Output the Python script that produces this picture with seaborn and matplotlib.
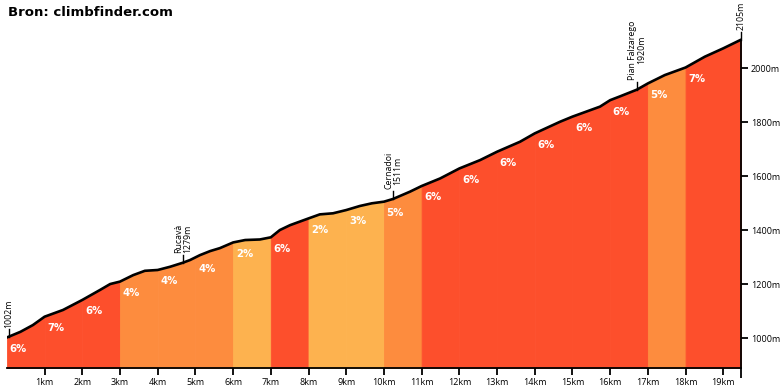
import numpy as np
import pandas as pd
import seaborn as sns
import matplotlib.pyplot as plt

# profile (km, m)
dist = [0, 0.36, 0.69, 1.0, 1.49, 2.0, 2.47, 2.74, 3.0, 3.35, 3.66, 4.0, 4.33, 4.67, 4.86,
        5.12, 5.39, 5.65, 6.0, 6.32, 6.71, 7.0, 7.24, 7.51, 8.0, 8.3, 8.65, 9.0, 9.36, 9.68,
        10.0, 10.24, 10.69, 11.0, 11.49, 12.0, 12.55, 13.0, 13.61, 14.0, 14.67, 15.0, 15.73,
        16.0, 16.26, 16.71, 17.0, 17.45, 18.0, 18.51, 19.0, 19.47]
elev = [1002, 1023, 1048, 1079, 1104, 1141, 1178, 1200, 1209, 1233, 1249, 1252, 1264, 1279, 1289,
        1307, 1322, 1333, 1354, 1363, 1365, 1373, 1400, 1418, 1443, 1458, 1462, 1474, 1489, 1499,
        1505, 1515, 1542, 1563, 1591, 1628, 1659, 1690, 1727, 1758, 1801, 1820, 1857,
        1881, 1895, 1920, 1943, 1974, 2002, 2042, 2073, 2105]

# grade per kilometre (last one runs to the top)
grades = [6, 7, 6, 4, 4, 4, 2, 6, 2, 3, 5, 6, 6, 6, 6, 6, 6, 5, 7]

# named points
wp_names = ["Rucavà", "Cernadoi", "Pian Falzarego"]
wp_km = [4.67, 10.24, 16.71]
wp_elev = [1279, 1511, 1920]

yticks = [1000, 1200, 1400, 1600, 1800, 2000]
xticks = list(range(1, 20))

RED, ORANGE, LIGHT = "#fd4f2c", "#fd8c3e", "#fdb24f"


def grade_color(g):
    if g >= 6:
        return RED
    if g >= 4:
        return ORANGE
    return LIGHT


prof = pd.DataFrame({"km": dist, "m": elev})
total = dist[-1]
ybot, ytop = 889, 2252

fig = plt.figure(figsize=(7.8, 3.9), dpi=100)
ax = fig.add_axes([6.86 / 780, 22 / 390, (741 - 6.86) / 780, 368 / 390])

# coloured blocks per km
for i, g in enumerate(grades):
    a = i
    b = total if i == len(grades) - 1 else i + 1
    xs = [a] + [d for d in dist if a < d < b] + [b]
    ys = np.interp(xs, dist, elev)
    ax.fill_between(xs, ys, ybot, color=grade_color(g), lw=0.6, edgecolor=grade_color(g))
    ax.text(a + 0.3, np.interp(a, dist, elev) - 42, f"{g}%", color="white", fontsize=7.3,
            fontweight="bold", ha="center", va="center", family="DejaVu Sans")

sns.lineplot(data=prof, x="km", y="m", ax=ax, color="black", lw=1.9, solid_capstyle="round")

# waypoint labels
def mark(x, y, txt):
    ax.plot([x, x], [y, y + 30], color="black", lw=1, clip_on=False)
    ax.text(x, y + 36, txt, rotation=90, ha="center", va="bottom", fontsize=6.3,
            linespacing=0.95, family="Open Sans", clip_on=False)


mark(0.05, elev[0], f"{elev[0]}m")
for n, k, e in zip(wp_names, wp_km, wp_elev):
    mark(k, np.interp(k, dist, elev), f"{n}\n{e}m")
mark(total, elev[-1], f"{elev[-1]}m")

ax.set_xlim(0, total)
ax.set_ylim(ybot, ytop)
ax.set_xlabel("")
ax.set_ylabel("")
for s in ["top", "left"]:
    ax.spines[s].set_visible(False)
ax.spines["right"].set_bounds(ybot, elev[-1])
ax.spines["right"].set_linewidth(1.3)
ax.spines["bottom"].set_linewidth(1.3)
ax.yaxis.tick_right()
ax.set_yticks(yticks)
ax.set_yticklabels([f"{v}m" for v in yticks])
ax.set_xticks(xticks)
ax.set_xticklabels([f"{v}km" for v in xticks])
ax.set_xticks([total], minor=True)
ax.tick_params(axis="both", direction="out", length=5, width=1.3, labelsize=6.5, pad=2)
ax.tick_params(axis="x", which="minor", length=7, width=1.3)
for lab in ax.get_xticklabels() + ax.get_yticklabels():
    lab.set_family("Open Sans")

fig.text(8 / 780, 1 - 12 / 390, "Bron: climbfinder.com", fontsize=9.5, fontweight="bold",
         va="center", ha="left", family="DejaVu Sans")

fig.savefig("out.png", dpi=100)
